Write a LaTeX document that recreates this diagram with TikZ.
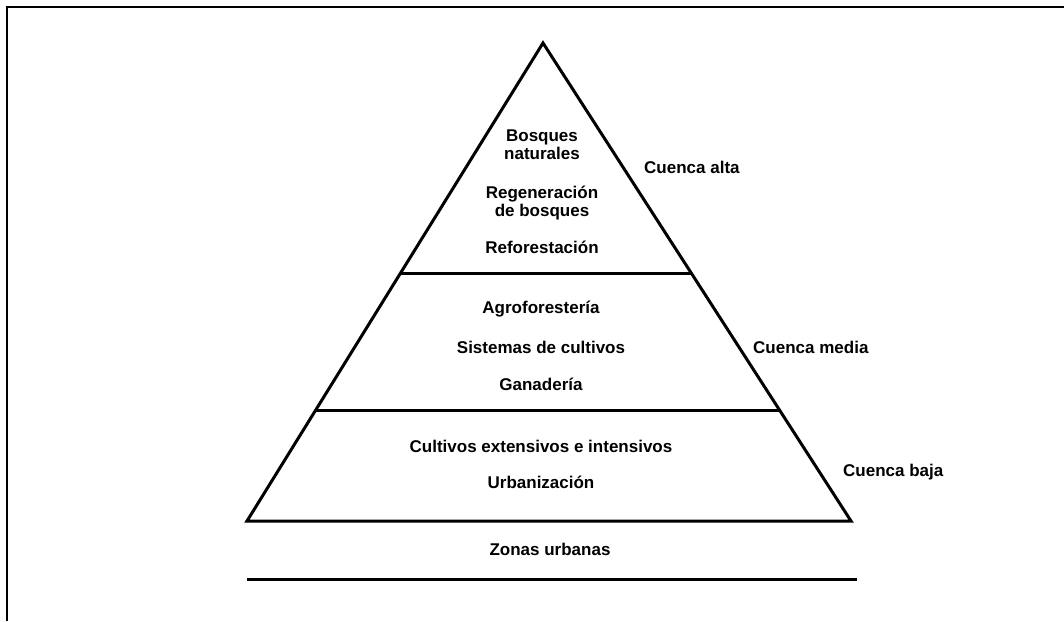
\documentclass[tikz,border=0pt]{standalone}
\usepackage{fontspec}
\setmainfont{Liberation Sans}
\usetikzlibrary{calc}
\begin{document}
\begin{tikzpicture}[x=1pt,y=-1pt,
  lbl/.style={font=\fontsize{17}{18}\selectfont\bfseries, inner sep=0pt, anchor=base, align=center},
  side/.style={font=\fontsize{17}{18}\selectfont\bfseries, inner sep=0pt, anchor=base west},
  thick line/.style={line width=3pt, line join=miter},
  frameline/.style={line width=1.8pt}]
\useasboundingbox (0,0) rectangle (1064,621);
\fill[white] (0,0) rectangle (1064,621);
% frame
\coordinate (f1) at (7,621);
\coordinate (f2) at (7,7);
\coordinate (f3) at (1064,7);
\draw[frameline] (f1) -- (f2) -- (f3);
% pyramid
\coordinate (apex) at (543,43);
\coordinate (bl) at (247,521);
\coordinate (br) at (851,521);
\draw[thick line] (apex) -- (br) -- (bl) -- cycle;
\coordinate (l1a) at ($(apex)!0.4822!(bl)$);
\coordinate (l1b) at ($(apex)!0.4822!(br)$);
\coordinate (l2a) at ($(apex)!0.7678!(bl)$);
\coordinate (l2b) at ($(apex)!0.7678!(br)$);
\draw[thick line] (l1a) -- (l1b);
\draw[thick line] (l2a) -- (l2b);
\coordinate (b1) at (247,579);
\coordinate (b2) at (857,579);
\draw[thick line] (b1) -- (b2);
% texts
\node[lbl] (bosq) at (542,159) {Bosques\\naturales};
\node[lbl] (regen) at (542,216) {Regeneración\\de bosques};
\node[lbl] (refor) at (542,253) {Reforestación};
\node[lbl] (agro) at (541,313) {Agroforestería};
\node[lbl] (sist) at (541,353) {Sistemas de cultivos};
\node[lbl] (gana) at (541,390) {Ganadería};
\node[lbl] (cult) at (541,452) {Cultivos extensivos e intensivos};
\node[lbl] (urb) at (541,488) {Urbanización};
\node[lbl] (zonas) at (550,555) {Zonas urbanas};
\node[side] (alta) at (644,173) {Cuenca alta};
\node[side] (media) at (753,353) {Cuenca media};
\node[side] (baja) at (843,476) {Cuenca baja};
\end{tikzpicture}
\end{document}
